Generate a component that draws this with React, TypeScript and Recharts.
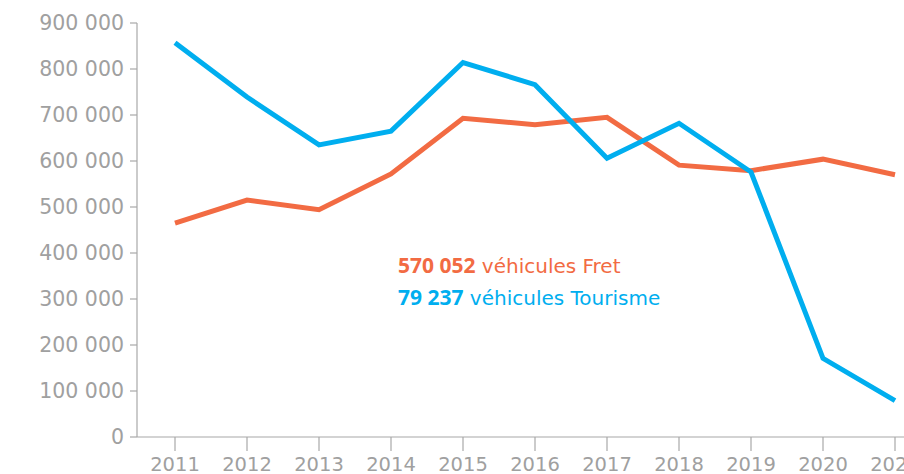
import React from 'react';
import { LineChart, Line, XAxis, YAxis, Customized } from 'recharts';

const years = ['2011', '2012', '2013', '2014', '2015', '2016', '2017', '2018', '2019', '2020', '2021'];
const fret = [465000, 515000, 494000, 572000, 693000, 679000, 695000, 591000, 579000, 604000, 570052];
const tourisme = [857000, 739000, 635000, 665000, 814000, 766000, 606000, 682000, 576000, 171000, 79237];
const yTicks = [0, 100000, 200000, 300000, 400000, 500000, 600000, 700000, 800000, 900000];

const data = years.map((y, i) => ({ year: y, fret: fret[i], tourisme: tourisme[i] }));

const ORANGE = '#f26b43';
const BLUE = '#00aeef';
const GRAY = '#a0a0a0';
const AXIS = '#a8a8a8';

const fmt = (v: number) => String(v).replace(/\B(?=(\d{3})+(?!\d))/g, ' ');

const Annotation = () => (
  <g>
    <text x={398} y={273} fontFamily="DejaVu Sans" fontSize={20} fill={ORANGE}>
      <tspan fontFamily="Open Sans" fontWeight={700} fontSize={21}>570 052</tspan>
      <tspan> véhicules Fret</tspan>
    </text>
    <text x={398} y={305} fontFamily="DejaVu Sans" fontSize={20} fill={BLUE}>
      <tspan fontFamily="Open Sans" fontWeight={700} fontSize={21}>79 237</tspan>
      <tspan> véhicules Tourisme</tspan>
    </text>
  </g>
);

export default function App() {
  return (
    <div style={{ position: 'absolute', left: 0, top: 0, width: 904, height: 474, overflow: 'hidden', background: '#fff' }}>
      <LineChart width={940} height={474} data={data} margin={{ top: 23, right: 0, bottom: 0, left: 0 }}>
        <XAxis
          dataKey="year"
          padding={{ left: 38, right: 45 }}
          height={37}
          tickSize={14}
          tickMargin={6}
          axisLine={{ stroke: AXIS, strokeWidth: 1.2 }}
          tickLine={{ stroke: AXIS, strokeWidth: 1.2 }}
          tick={{ fill: GRAY, fontSize: 19.5, fontFamily: 'DejaVu Sans' }}
          interval={0}
        />
        <YAxis
          domain={[0, 900000]}
          ticks={yTicks}
          width={137}
          tickSize={7}
          tickMargin={6}
          tickFormatter={fmt}
          axisLine={{ stroke: AXIS, strokeWidth: 1.2 }}
          tickLine={{ stroke: AXIS, strokeWidth: 1.2 }}
          tick={{ fill: GRAY, fontSize: 20.5, fontFamily: 'DejaVu Sans' }}
          interval={0}
        />
        <Line type="linear" dataKey="fret" stroke={ORANGE} strokeWidth={5} dot={false} activeDot={false} isAnimationActive={false} />
        <Line type="linear" dataKey="tourisme" stroke={BLUE} strokeWidth={5} dot={false} activeDot={false} isAnimationActive={false} />
        <Customized component={Annotation} />
      </LineChart>
    </div>
  );
}
